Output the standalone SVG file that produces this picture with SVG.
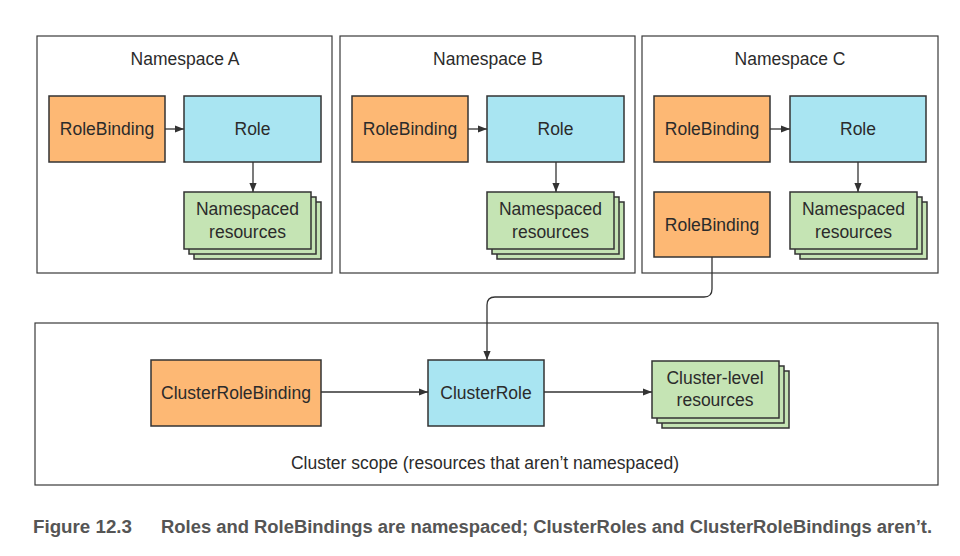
<svg xmlns="http://www.w3.org/2000/svg" width="960" height="556" viewBox="0 0 960 556">
<defs>
<style>
.frame{fill:#fff;stroke:#3a3a3a;stroke-width:1.2}
.rb{fill:#FDB874;stroke:#333;stroke-width:1.5}
.role{fill:#A9E5F2;stroke:#333;stroke-width:1.5}
.res{fill:#C5E4B4;stroke:#333;stroke-width:1.5}
.t{font-family:"Liberation Sans",Arial,sans-serif;font-size:17.5px;fill:#2b2b2b;text-anchor:middle}
.ln{fill:none;stroke:#333;stroke-width:1.3}
.cap{font-family:"Liberation Sans",Arial,sans-serif;font-size:18px;font-weight:bold;fill:#555}
</style>
<marker id="ah" viewBox="0 0 10 10" refX="10" refY="5" markerWidth="9" markerHeight="9" markerUnits="userSpaceOnUse" orient="auto">
<path d="M0,1 L10,5 L0,9 z" fill="#333"/>
</marker>
<g id="stack">
<rect class="res" x="10" y="10" width="127" height="57"/>
<rect class="res" x="5" y="5" width="127" height="57"/>
<rect class="res" x="0" y="0" width="127" height="57"/>
</g>
</defs>
<rect width="960" height="556" fill="#fff"/>

<g id="namespace-a">
<rect class="frame" x="37" y="36" width="295" height="237"/>
<text class="t" x="185" y="65">Namespace A</text>
<g id="a-rolebinding"><rect class="rb" x="49" y="96" width="116" height="66"/><text class="t" x="107" y="135">RoleBinding</text></g>
<g id="a-role"><rect class="role" x="184" y="96" width="137" height="66"/><text class="t" x="252.5" y="135">Role</text></g>
<g id="a-resources"><use href="#stack" x="184" y="192"/><text class="t" x="247.5" y="215">Namespaced</text><text class="t" x="247.5" y="238">resources</text></g>
</g>

<g id="namespace-b">
<rect class="frame" x="340" y="36" width="295" height="237"/>
<text class="t" x="488" y="65">Namespace B</text>
<g id="b-rolebinding"><rect class="rb" x="352" y="96" width="116" height="66"/><text class="t" x="410" y="135">RoleBinding</text></g>
<g id="b-role"><rect class="role" x="487" y="96" width="137" height="66"/><text class="t" x="555.5" y="135">Role</text></g>
<g id="b-resources"><use href="#stack" x="487" y="192"/><text class="t" x="550.5" y="215">Namespaced</text><text class="t" x="550.5" y="238">resources</text></g>
</g>

<g id="namespace-c">
<rect class="frame" x="642" y="36" width="296" height="237"/>
<text class="t" x="790" y="65">Namespace C</text>
<g id="c-rolebinding"><rect class="rb" x="654" y="96" width="116" height="66"/><text class="t" x="712" y="135">RoleBinding</text></g>
<g id="c-role"><rect class="role" x="790" y="96" width="136" height="66"/><text class="t" x="858" y="135">Role</text></g>
<g id="c-resources"><use href="#stack" x="790" y="192"/><text class="t" x="853.5" y="215">Namespaced</text><text class="t" x="853.5" y="238">resources</text></g>
<g id="c-rolebinding2"><rect class="rb" x="654" y="192" width="116" height="65"/><text class="t" x="712" y="231">RoleBinding</text></g>
</g>

<g id="cluster-scope">
<rect class="frame" x="35" y="323" width="903" height="162"/>
<text class="t" x="485" y="469">Cluster scope (resources that aren’t namespaced)</text>
<g id="clusterrolebinding"><rect class="rb" x="151" y="360" width="170" height="66"/><text class="t" x="236" y="399">ClusterRoleBinding</text></g>
<g id="clusterrole"><rect class="role" x="428" y="360" width="116" height="66"/><text class="t" x="486" y="399">ClusterRole</text></g>
<g id="cluster-resources"><use href="#stack" x="652" y="361"/><text class="t" x="715" y="384">Cluster-level</text><text class="t" x="715" y="406">resources</text></g>
</g>

<g id="connectors">
<line class="ln" x1="165" y1="129" x2="184" y2="129" marker-end="url(#ah)"/>
<line class="ln" x1="253" y1="162" x2="253" y2="192" marker-end="url(#ah)"/>
<line class="ln" x1="468" y1="129" x2="487" y2="129" marker-end="url(#ah)"/>
<line class="ln" x1="556" y1="162" x2="556" y2="192" marker-end="url(#ah)"/>
<line class="ln" x1="770" y1="129" x2="790" y2="129" marker-end="url(#ah)"/>
<line class="ln" x1="858" y1="162" x2="858" y2="192" marker-end="url(#ah)"/>
<path class="ln" d="M712,257 V289 Q712,297 704,297 H495 Q487,297 487,305 V360" marker-end="url(#ah)"/>
<line class="ln" x1="321" y1="392" x2="428" y2="392" marker-end="url(#ah)"/>
<line class="ln" x1="544" y1="392" x2="652" y2="392" marker-end="url(#ah)"/>
</g>

<text class="cap" y="533"><tspan x="33" textLength="99" lengthAdjust="spacingAndGlyphs">Figure 12.3</tspan><tspan x="161" textLength="771" lengthAdjust="spacingAndGlyphs">Roles and RoleBindings are namespaced; ClusterRoles and ClusterRoleBindings aren’t.</tspan></text>
</svg>
